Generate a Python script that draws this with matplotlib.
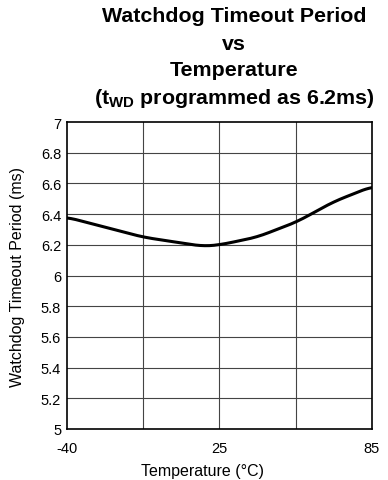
import matplotlib
matplotlib.use("Agg")
import matplotlib.pyplot as plt
import numpy as np

plt.rcParams['font.family'] = ['Liberation Sans', 'DejaVu Sans']
plt.rcParams['mathtext.fontset'] = 'custom'
plt.rcParams['mathtext.rm'] = 'Liberation Sans'
plt.rcParams['mathtext.bf'] = 'Liberation Sans:bold'

# curve
temp = [-40, -8.75, 3.6, 16, 22.8, 37.9, 54.3, 69.2, 85]
period = [6.38, 6.25, 6.22, 6.19, 6.20, 6.25, 6.35, 6.48, 6.58]

# the "25" label sits on the middle grid line in the original
xtick_pos = [-40, 22.5, 85]
xtick_labels = ["-40", "25", "85"]
yticks = [5, 5.2, 5.4, 5.6, 5.8, 6, 6.2, 6.4, 6.6, 6.8, 7]
ytick_labels = ["5", "5.2", "5.4", "5.6", "5.8", "6", "6.2", "6.4", "6.6", "6.8", "7"]

W, H = 388, 481
fig = plt.figure(figsize=(W / 100, H / 100), dpi=100)
ax = fig.add_axes([66.7 / W, 51 / H, 305.3 / W, 307 / H])

# smooth the sparse points a bit for drawing
xs = np.linspace(-40, 85, 200)
ys = np.interp(xs, temp, period)
k = np.ones(15) / 15
ys_s = np.convolve(np.pad(ys, 7, mode='edge'), k, mode='valid')
ax.plot(xs, ys_s, color='black', lw=2.2, solid_capstyle='round')

ax.set_xlim(-40, 85)
ax.set_ylim(5, 7)
for gx in np.linspace(-40, 85, 5)[1:-1]:
    ax.axvline(gx, color='#444444', lw=0.8, zorder=0)
for gy in yticks[1:-1]:
    ax.axhline(gy, color='#444444', lw=0.8, zorder=0)

ax.set_xticks(xtick_pos)
ax.set_xticklabels(xtick_labels, fontsize=10.5)
ax.set_yticks(yticks)
ax.set_yticklabels(ytick_labels, fontsize=10.5)
ax.tick_params(axis='y', length=0, pad=4)
ax.tick_params(axis='x', length=0, pad=9)
for s in ax.spines.values():
    s.set_linewidth(1.2)
    s.set_color('black')

fig.text(202 / W, 1 - 472 / H, "Temperature (\u00b0C)", ha='center', va='center', fontsize=11.5)
fig.text(18 / W, 1 - 277 / H, "Watchdog Timeout Period (ms)", ha='center', va='center',
         rotation=90, fontsize=11.5)

tx = 234 / W
fs = 15.4
fig.text(tx, 1 - 17 / H, "Watchdog Timeout Period", ha='center', va='center', fontsize=fs, fontweight='bold')
fig.text(tx, 1 - 44 / H, "vs", ha='center', va='center', fontsize=fs, fontweight='bold')
fig.text(tx, 1 - 71 / H, "Temperature", ha='center', va='center', fontsize=fs, fontweight='bold')
fig.text(tx, 1 - 98 / H, r"($\mathbf{t_{WD}}$ programmed as 6.2ms)", ha='center', va='center',
         fontsize=fs, fontweight='bold')

fig.savefig("out.png", dpi=100)
